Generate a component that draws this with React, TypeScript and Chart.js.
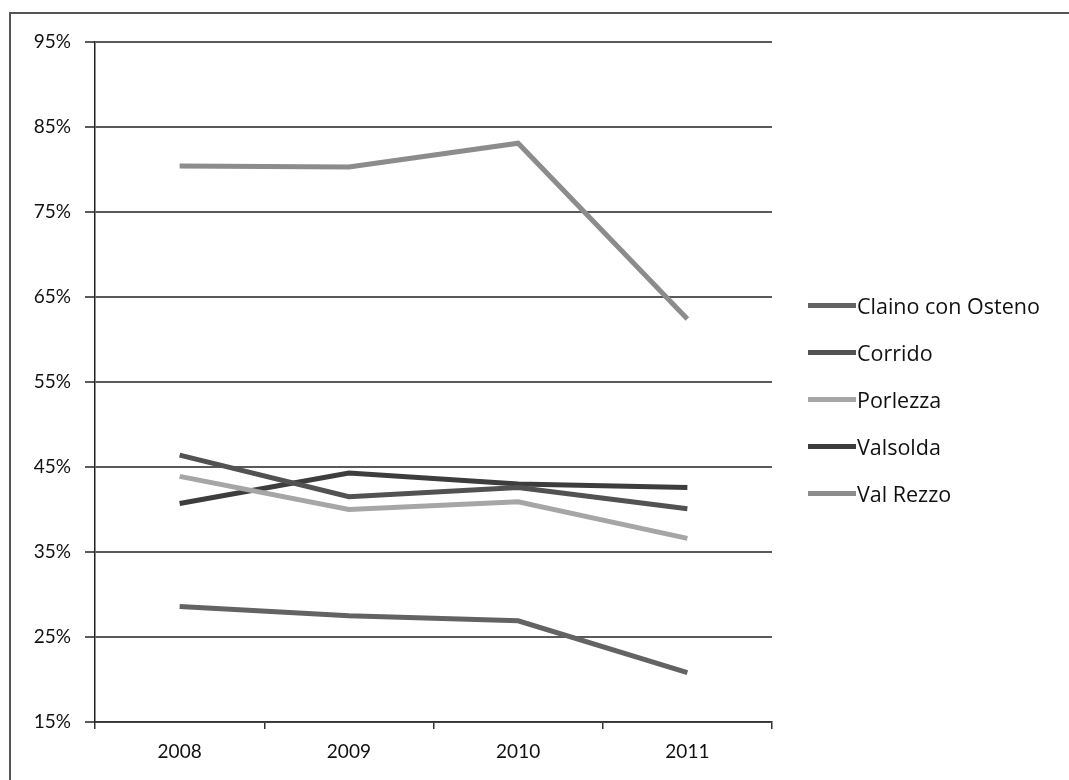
import React, { useEffect, useRef } from "react";
import { Chart, registerables } from "chart.js";

Chart.register(...registerables);

const years = ["2008", "2009", "2010", "2011"];
const seriesNames = ["Claino con Osteno", "Corrido", "Porlezza", "Valsolda", "Val Rezzo"];
const clainoConOsteno = [28.6, 27.5, 26.9, 20.8];
const corrido = [46.4, 41.5, 42.6, 40.1];
const porlezza = [43.9, 40.0, 40.9, 36.6];
const valsolda = [40.7, 44.3, 43.0, 42.6];
const valRezzo = [80.4, 80.3, 83.1, 62.4];
const seriesColors = ["#636363", "#525252", "#a6a6a6", "#3d3d3d", "#8c8c8c"];
const yTicks = [15, 25, 35, 45, 55, 65, 75, 85, 95];

const FONT = "Lato, 'Open Sans', sans-serif";
const LEGEND_FONT = "'Open Sans', Lato, sans-serif";

export default function App() {
  const ref = useRef<HTMLCanvasElement | null>(null);

  useEffect(() => {
    if (!ref.current) return;
    const values = [clainoConOsteno, corrido, porlezza, valsolda, valRezzo];
    const chart = new Chart(ref.current, {
      type: "line",
      data: {
        labels: years,
        datasets: seriesNames.map((name, i) => ({
          label: name,
          data: values[i],
          borderColor: seriesColors[i],
          backgroundColor: seriesColors[i],
          borderWidth: 5,
          pointRadius: 0,
          tension: 0,
          fill: false,
        })),
      },
      options: {
        animation: false,
        responsive: false,
        maintainAspectRatio: false,
        layout: { padding: { top: 42, right: 297, bottom: 0, left: 0 } },
        plugins: { legend: { display: false }, tooltip: { enabled: false } },
        scales: {
          x: {
            offset: true,
            grid: {
              offset: true,
              drawOnChartArea: false,
              drawTicks: true,
              tickLength: 7,
              color: "#333",
              lineWidth: 1.5,
            },
            border: { color: "#333", width: 1.5 },
            ticks: {
              color: "#111",
              font: { family: FONT, size: 19 },
              padding: 11,
            },
            afterFit: (scale: any) => {
              scale.height = 58;
            },
          },
          y: {
            min: 15,
            max: 95,
            afterBuildTicks: (scale: any) => {
              scale.ticks = yTicks.map((v) => ({ value: v }));
            },
            grid: {
              color: "#5a5a5a",
              lineWidth: 2,
              drawTicks: true,
              tickLength: 10,
            },
            border: { color: "#222", width: 1.5 },
            ticks: {
              color: "#111",
              font: { family: FONT, size: 19 },
              padding: 14,
              callback: (v: any) => v + "%",
            },
            afterFit: (scale: any) => {
              scale.width = 95;
            },
          },
        },
      },
    });
    return () => chart.destroy();
  }, []);

  const legendTop = [305, 352, 399, 446, 493];

  return (
    <div
      style={{
        position: "absolute",
        left: 0,
        top: 0,
        width: 1069,
        height: 780,
        overflow: "hidden",
        background: "#fff",
      }}
    >
      <div
        style={{
          position: "absolute",
          left: 9,
          top: 12,
          width: 1100,
          height: 800,
          borderLeft: "2px solid #555",
          borderTop: "2px solid #555",
        }}
      />
      <canvas
        ref={ref}
        width={1069}
        height={780}
        style={{ position: "absolute", left: 0, top: 0 }}
      />
      {seriesNames.map((name, i) => (
        <div
          key={name}
          style={{
            position: "absolute",
            left: 808,
            top: legendTop[i] - 15,
            height: 30,
            display: "flex",
            alignItems: "center",
            fontFamily: LEGEND_FONT,
            fontSize: 21.5,
            color: "#111",
            whiteSpace: "nowrap",
          }}
        >
          <span
            style={{
              display: "inline-block",
              width: 48,
              height: 5,
              background: seriesColors[i],
              marginRight: 1,
            }}
          />
          {name}
        </div>
      ))}
    </div>
  );
}
